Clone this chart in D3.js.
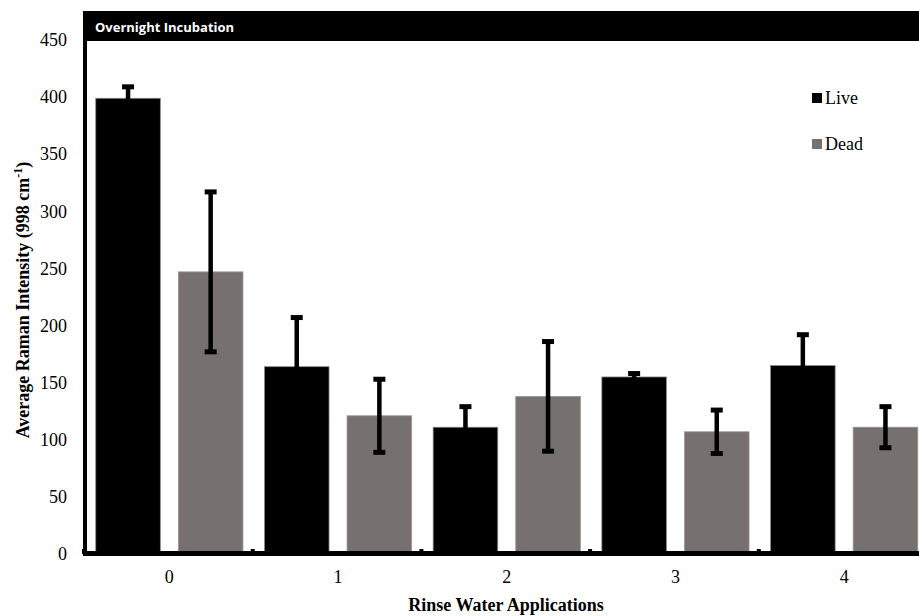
<!DOCTYPE html>
<html><head><meta charset="utf-8">
<script src="https://cdn.jsdelivr.net/npm/d3@7"></script>
<style>html,body{margin:0;padding:0;background:#fff;}svg{display:block;}</style>
</head><body>
<script>
const categories = ["0","1","2","3","4"];
const seriesNames = ["Live","Dead"];
const liveValues = [399, 164, 111, 155, 165];
const liveErrors = [10, 43, 18, 3, 27];
const deadValues = [247, 121, 138, 107, 111];
const deadErrors = [70, 32, 48, 19, 18];
const yTicks = [0,50,100,150,200,250,300,350,400,450];
const colors = {Live:"#000000", Dead:"#767170"};
const titleText = "Overnight Incubation";
const xTitle = "Rinse Water Applications";

const W = 919, H = 616;
const serif = "'Liberation Serif', 'Times New Roman', serif";
const svg = d3.select("body").append("svg").attr("width", W).attr("height", H);

const y = d3.scaleLinear().domain([0,450]).range([554, 40]);
const x0 = d3.scaleBand().domain(categories).range([85, 85 + 5*168.7]).padding(0);
const x1 = d3.scaleBand().domain(seriesNames).range([0, x0.bandwidth()]).paddingInner(0.218).paddingOuter(0.13);

const data = categories.map((c,i)=>({cat:c, vals:[
  {s:"Live", v:liveValues[i], e:liveErrors[i]},
  {s:"Dead", v:deadValues[i], e:deadErrors[i]}]}));

// bars
const g = svg.append("g");
const groups = g.selectAll("g.cat").data(data).join("g").attr("transform", d=>`translate(${x0(d.cat)},0)`);
groups.selectAll("rect").data(d=>d.vals).join("rect")
  .attr("x", d=>x1(d.s)).attr("width", x1.bandwidth())
  .attr("y", d=>y(d.v)).attr("height", d=>y(0)-y(d.v))
  .attr("fill", d=>colors[d.s])
  .attr("stroke", d=>d.s==="Live" ? "#8c8c8c" : "#9a9696").attr("stroke-width", 0.8);

// error bars
const eb = groups.selectAll("g.err").data(d=>d.vals).join("g").attr("class","err");
eb.append("line")
  .attr("x1", d=>x1(d.s)+x1.bandwidth()/2).attr("x2", d=>x1(d.s)+x1.bandwidth()/2)
  .attr("y1", d=>y(d.v+d.e)).attr("y2", d=>y(d.v-d.e))
  .attr("stroke","#000").attr("stroke-width",4.5);
["top","bot"].forEach(k=>{
  eb.append("line")
    .attr("x1", d=>x1(d.s)+x1.bandwidth()/2-6).attr("x2", d=>x1(d.s)+x1.bandwidth()/2+6)
    .attr("y1", d=>y(k==="top"?d.v+d.e:d.v-d.e)).attr("y2", d=>y(k==="top"?d.v+d.e:d.v-d.e))
    .attr("stroke","#000").attr("stroke-width",5);
});

// frame: header + left border
svg.append("path")
  .attr("d", `M83,41 L83,16 Q83,11 88,11 L${W},11 L${W},41 Z`)
  .attr("fill","#000");
svg.append("rect").attr("x",83).attr("y",11).attr("width",4).attr("height",545).attr("fill","#000");
svg.append("text").attr("x",95).attr("y",31.5).text(titleText)
  .attr("fill","#fff").attr("font-family","'Open Sans', sans-serif").attr("font-weight","bold").attr("font-size","13px");

// x axis
const xAxis = d3.axisBottom(x0).tickSize(0).tickPadding(0);
const xa = svg.append("g").attr("transform", `translate(0,${y(0)})`).call(xAxis);
xa.select(".domain").remove();
xa.selectAll("text").attr("font-family",serif).attr("font-size","18px").attr("fill","#000")
  .attr("dy",null).attr("y",29);
svg.append("line").attr("x1",83).attr("x2",W).attr("y1",553.5).attr("y2",553.5).attr("stroke","#000").attr("stroke-width",5);
// category boundary ticks
const bounds = categories.slice(1).map(c=>x0(c));
svg.selectAll("line.bt").data(bounds.concat([85])).join("line").attr("class","bt")
  .attr("x1",d=>d-1).attr("x2",d=>d-1).attr("y1",549).attr("y2",554).attr("stroke","#000").attr("stroke-width",4);

// y axis labels
const yAxis = d3.axisLeft(y).tickValues(yTicks).tickSize(0).tickPadding(0);
const ya = svg.append("g").attr("transform","translate(67,0)").call(yAxis);
ya.select(".domain").remove();
ya.selectAll("text").attr("font-family",serif).attr("font-size","18px").attr("fill","#000");

// axis titles
svg.append("text").attr("x",506).attr("y",611).attr("text-anchor","middle")
  .attr("font-family",serif).attr("font-weight","bold").attr("font-size","18px").text(xTitle);
const yt = svg.append("text").attr("transform","translate(29,300) rotate(-90)").attr("text-anchor","middle")
  .attr("font-family",serif).attr("font-weight","bold").attr("font-size","18px");
yt.append("tspan").text("Average Raman Intensity (998 cm");
yt.append("tspan").attr("dy","-7").attr("font-size","12px").text("-1");
yt.append("tspan").attr("dy","7").text(")");

// legend
const lg = svg.append("g");
seriesNames.forEach((s,i)=>{
  const yy = 93 + i*46;
  lg.append("rect").attr("x",812).attr("y",yy).attr("width",10).attr("height",10).attr("fill",colors[s]);
  lg.append("text").attr("x",825).attr("y",yy+11).text(s)
    .attr("font-family",serif).attr("font-size","18px").attr("fill","#000");
});
</script>
</body></html>
